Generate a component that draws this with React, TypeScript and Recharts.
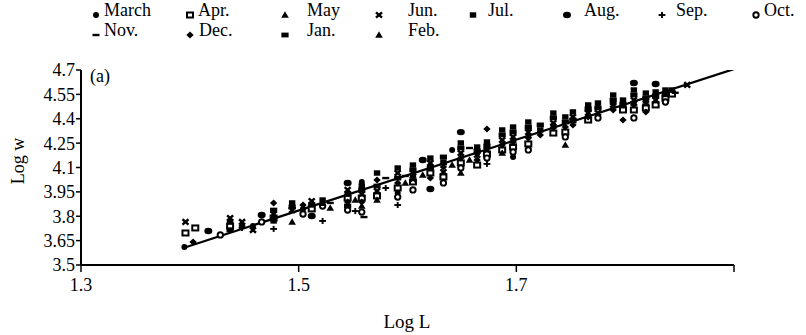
import React from 'react';
import { ScatterChart, Scatter, XAxis, YAxis } from 'recharts';

const xTicks = [1.3, 1.5, 1.7, 1.9];
const yTicks = [3.5, 3.65, 3.8, 3.95, 4.1, 4.25, 4.4, 4.55, 4.7];

const monthNames = ['March', 'Apr.', 'May', 'Jun.', 'Jul.', 'Aug.', 'Sep.', 'Oct.', 'Nov.', 'Dec.', 'Jan.', 'Feb.'];

const march = [[1.395, 3.611], [1.458, 3.74], [1.504, 3.845], [1.512, 3.857], [1.558, 4.011], [1.591, 3.943], [1.605, 4.042], [1.641, 4.208], [1.664, 4.189], [1.697, 4.165], [1.734, 4.36], [1.766, 4.42], [1.798, 4.47]];
const apr = [[1.396, 3.697], [1.405, 3.728], [1.437, 3.74], [1.477, 3.789], [1.512, 3.845], [1.545, 3.912], [1.558, 3.912], [1.572, 3.925], [1.591, 3.974], [1.605, 4.011], [1.621, 4.066], [1.633, 4.042], [1.649, 4.128], [1.664, 4.115], [1.673, 4.183], [1.687, 4.208], [1.697, 4.226], [1.711, 4.245], [1.734, 4.312], [1.745, 4.318], [1.766, 4.392], [1.798, 4.454], [1.808, 4.454], [1.819, 4.466], [1.828, 4.485], [1.837, 4.528], [1.843, 4.552]];
const may = [[1.477, 3.8], [1.529, 3.851], [1.552, 3.9], [1.572, 3.9], [1.614, 4.054], [1.657, 4.146], [1.697, 4.27], [1.775, 4.48], [1.808, 4.5]];
const jun = [[1.396, 3.765], [1.437, 3.789], [1.448, 3.765], [1.458, 3.715], [1.477, 3.814], [1.494, 3.838], [1.512, 3.894], [1.545, 3.962], [1.558, 3.937], [1.572, 3.955], [1.591, 4.066], [1.605, 4.029], [1.621, 4.128], [1.633, 4.072], [1.649, 4.189], [1.664, 4.177], [1.673, 4.208], [1.687, 4.269], [1.697, 4.288], [1.711, 4.318], [1.734, 4.374], [1.752, 4.411], [1.766, 4.435], [1.775, 4.435], [1.789, 4.485], [1.808, 4.515], [1.819, 4.497], [1.828, 4.515], [1.857, 4.608]];
const jul = [[1.437, 3.765], [1.477, 3.771], [1.494, 3.882], [1.522, 3.9], [1.545, 3.937], [1.558, 3.986], [1.572, 4.066], [1.591, 4.097], [1.605, 4.115], [1.621, 4.158], [1.633, 4.134], [1.649, 4.251], [1.664, 4.226], [1.673, 4.257], [1.687, 4.331], [1.697, 4.349], [1.711, 4.38], [1.722, 4.331], [1.734, 4.435], [1.745, 4.411], [1.752, 4.442], [1.766, 4.485], [1.775, 4.497], [1.789, 4.546], [1.798, 4.515], [1.808, 4.577], [1.819, 4.558], [1.828, 4.565], [1.837, 4.577], [1.843, 4.577]];
const aug = [[1.417, 3.709], [1.466, 3.808], [1.512, 3.802], [1.545, 4.005], [1.614, 4.146], [1.621, 3.968], [1.649, 4.318], [1.808, 4.62], [1.828, 4.614]];
const sep = [[1.448, 3.728], [1.477, 3.722], [1.522, 3.771], [1.552, 3.832], [1.58, 3.974], [1.591, 3.869], [1.621, 4.11], [1.673, 4.122], [1.711, 4.33], [1.766, 4.45], [1.798, 4.5]];
const oct = [[1.428, 3.685], [1.466, 3.765], [1.504, 3.814], [1.522, 3.863], [1.545, 3.838], [1.558, 3.826], [1.591, 3.918], [1.605, 3.962], [1.633, 4.005], [1.649, 4.097], [1.673, 4.158], [1.697, 4.195], [1.711, 4.208], [1.745, 4.288], [1.775, 4.405], [1.808, 4.405], [1.837, 4.503]];
const nov = [[1.494, 3.85], [1.529, 3.882], [1.56, 3.795], [1.58, 4.035], [1.598, 4.048], [1.633, 4.12], [1.657, 4.22], [1.697, 4.24], [1.752, 4.4], [1.837, 4.54], [1.846, 4.56]];
const dec = [[1.403, 3.642], [1.448, 3.74], [1.477, 3.882], [1.504, 3.869], [1.545, 3.888], [1.558, 3.888], [1.572, 4.023], [1.591, 4.005], [1.605, 4.054], [1.621, 4.035], [1.633, 4.103], [1.649, 4.158], [1.664, 4.146], [1.673, 4.337], [1.687, 4.238], [1.697, 4.257], [1.711, 4.282], [1.722, 4.3], [1.734, 4.343], [1.745, 4.349], [1.752, 4.362], [1.766, 4.411], [1.789, 4.454], [1.798, 4.392], [1.808, 4.485], [1.819, 4.442]];
const jan = [[1.437, 3.715], [1.477, 3.838], [1.494, 3.857], [1.512, 3.869], [1.545, 3.863], [1.558, 3.962], [1.572, 3.986], [1.591, 4.035], [1.605, 4.085], [1.621, 4.097], [1.633, 4.165], [1.649, 4.22], [1.664, 4.202], [1.673, 4.232], [1.687, 4.3], [1.697, 4.318], [1.711, 4.349], [1.722, 4.362], [1.734, 4.405], [1.745, 4.38], [1.752, 4.386], [1.766, 4.46], [1.775, 4.466], [1.789, 4.515], [1.798, 4.485], [1.808, 4.546], [1.819, 4.528], [1.828, 4.54], [1.837, 4.552]];
const feb = [[1.494, 3.765], [1.522, 3.88], [1.558, 3.863], [1.598, 4.005], [1.605, 4.07], [1.641, 4.115], [1.649, 4.066], [1.687, 4.189], [1.711, 4.3], [1.745, 4.238], [1.789, 4.5], [1.819, 4.51]];

const fitLine = [[1.394, 3.605], [1.9, 4.706]];

const monthData = [march, apr, may, jun, jul, aug, sep, oct, nov, dec, jan, feb];
const kinds = ['dotSmall', 'squareOpen', 'triangle', 'cross', 'squareFill', 'dotBig', 'plus', 'circleOpen', 'dash', 'diamond', 'rectFill', 'triangle'];

const toObj = (arr: number[][]) => arr.map(([x, y]) => ({ x, y }));

function Marker({ kind, cx, cy }: { kind: string; cx: number; cy: number }) {
  const k = '#000';
  switch (kind) {
    case 'dotSmall':
      return <circle cx={cx} cy={cy} r={3} fill={k} />;
    case 'squareOpen':
      return <rect x={cx - 3} y={cy - 2.5} width={6} height={5} fill="#fff" stroke={k} strokeWidth={2} />;
    case 'triangle':
      return <polygon points={`${cx},${cy - 3.8} ${cx - 3.8},${cy + 2.7} ${cx + 3.8},${cy + 2.7}`} fill={k} />;
    case 'cross':
      return (
        <g stroke={k} strokeWidth={2.4}>
          <line x1={cx - 3} y1={cy - 2.7} x2={cx + 3} y2={cy + 2.7} />
          <line x1={cx - 3} y1={cy + 2.7} x2={cx + 3} y2={cy - 2.7} />
        </g>
      );
    case 'squareFill':
      return <rect x={cx - 3.2} y={cy - 2.7} width={6.4} height={5.4} fill={k} />;
    case 'dotBig':
      return <ellipse cx={cx} cy={cy} rx={4} ry={3.2} fill={k} />;
    case 'plus':
      return (
        <g stroke={k} strokeWidth={1.9}>
          <line x1={cx - 3.4} y1={cy} x2={cx + 3.4} y2={cy} />
          <line x1={cx} y1={cy - 3} x2={cx} y2={cy + 3} />
        </g>
      );
    case 'circleOpen':
      return <circle cx={cx} cy={cy} r={2.7} fill="#fff" stroke={k} strokeWidth={1.9} />;
    case 'dash':
      return <rect x={cx - 3.5} y={cy - 1.2} width={7} height={2.4} fill={k} />;
    case 'diamond':
      return <polygon points={`${cx},${cy - 3.5} ${cx + 3.7},${cy} ${cx},${cy + 3.5} ${cx - 3.7},${cy}`} fill={k} />;
    case 'rectFill':
      return <rect x={cx - 3.6} y={cy - 2.4} width={7.2} height={4.8} fill={k} />;
    default:
      return <circle cx={cx} cy={cy} r={2.5} fill={k} />;
  }
}

const serif = '"Liberation Serif", "Times New Roman", serif';

const legendCols = [96, 190, 285, 379, 473, 567, 662, 756];
const legendTextX = [104, 198, 307, 408, 488, 584, 676, 764, 104, 199, 307, 408];

export default function App() {
  return (
    <div style={{ position: 'absolute', left: 0, top: 0, width: 806, height: 335, background: '#fff', fontFamily: serif, color: '#000' }}>
      {monthNames.map((name, i) => {
        const row = i < 8 ? 0 : 1;
        const col = i < 8 ? i : i - 8;
        const top = row === 0 ? 1 : 21;
        return (
          <React.Fragment key={name}>
            <svg style={{ position: 'absolute', left: legendCols[col] - 6, top: top + 8 }} width={12} height={12}>
              <Marker kind={kinds[i]} cx={6} cy={6} />
            </svg>
            <div style={{ position: 'absolute', left: legendTextX[i], top, fontSize: 18, lineHeight: '18px', height: 18, whiteSpace: 'nowrap' }}>{name}</div>
          </React.Fragment>
        );
      })}
      <div style={{ position: 'absolute', left: 90, top: 67, fontSize: 18, lineHeight: '18px' }}>(a)</div>
      <div style={{ position: 'absolute', left: 18, top: 161, width: 80, marginLeft: -40, marginTop: -10, textAlign: 'center', fontSize: 18, lineHeight: '20px', transform: 'rotate(-90deg)' }}>Log w</div>
      <div style={{ position: 'absolute', left: 407, top: 322, width: 100, marginLeft: -50, marginTop: -10, textAlign: 'center', fontSize: 19, lineHeight: '20px' }}>Log L</div>
      <ScatterChart width={806} height={335} margin={{ top: 70, right: 72, bottom: 40, left: 21 }} style={{ position: 'absolute', left: 0, top: 0 }}>
        <XAxis
          type="number"
          dataKey="x"
          domain={[1.3, 1.9]}
          ticks={xTicks}
          interval={0}
          tickFormatter={(v: number) => (v === 1.9 ? '' : String(v))}
          allowDataOverflow
          height={30}
          axisLine={{ stroke: '#000', strokeWidth: 2 }}
          tickLine={{ stroke: '#000', strokeWidth: 1.5 }}
          tickSize={7}
          tickMargin={6}
          tick={{ fill: '#000', fontSize: 18, fontFamily: serif }}
        />
        <YAxis
          type="number"
          dataKey="y"
          domain={[3.5, 4.7]}
          ticks={yTicks}
          interval={0}
          allowDataOverflow
          width={60}
          axisLine={{ stroke: '#000', strokeWidth: 2 }}
          tickLine={{ stroke: '#000', strokeWidth: 1.5 }}
          tickSize={5}
          tickMargin={1}
          tick={{ fill: '#000', fontSize: 18, fontFamily: serif }}
        />
        <Scatter
          data={toObj(fitLine)}
          line={{ stroke: '#000', strokeWidth: 2.2 }}
          shape={() => <g />}
          isAnimationActive={false}
        />
        {monthData.map((d, i) => (
          <Scatter
            key={monthNames[i]}
            name={monthNames[i]}
            data={toObj(d)}
            isAnimationActive={false}
            shape={(p: any) => <Marker kind={kinds[i]} cx={p.cx} cy={p.cy} />}
          />
        ))}
      </ScatterChart>
    </div>
  );
}
